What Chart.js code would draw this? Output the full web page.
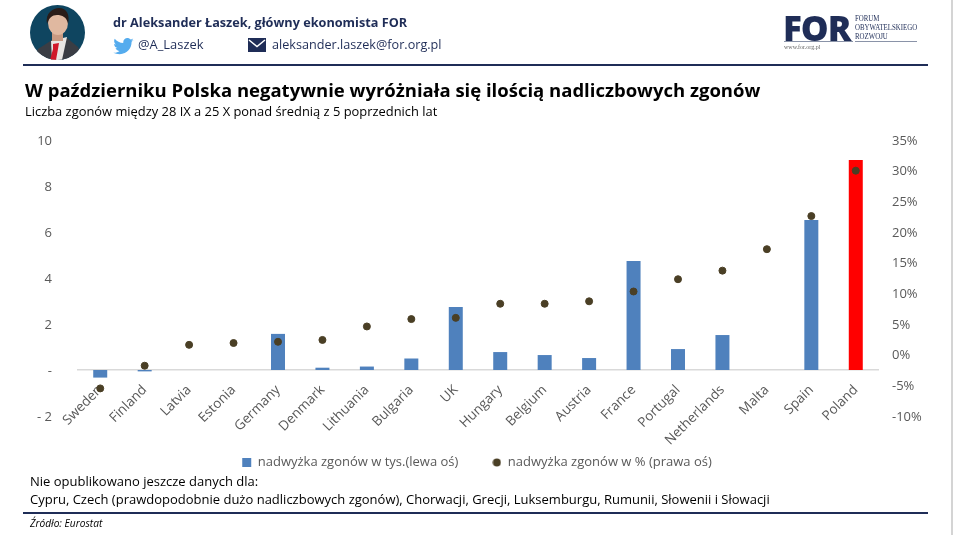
<!DOCTYPE html>
<html lang="pl">
<head>
<meta charset="utf-8">
<title>Nadliczbowe zgony</title>
<script src="https://cdn.jsdelivr.net/npm/chart.js@4"></script>
<style>
    html, body { margin: 0; padding: 0; background: #fff; }
    body { width: 954px; height: 535px; position: relative; overflow: hidden; font-family: "Open Sans", sans-serif; }
    canvas { position: absolute; left: 0; top: 0; }
    .t { position: absolute; white-space: nowrap; line-height: 1; }
    .rule { position: absolute; left: 23px; width: 905px; height: 2px; background: #1f2d57; }
    .edge { position: absolute; left: 951px; top: 0; width: 2px; height: 535px; background: #d4d4d4; }
    svg { position: absolute; }
</style>
</head>
<body>
<canvas id="excessChart" width="954" height="535"></canvas>

<!-- header -->
<svg style="left:30px;top:5px" width="55" height="55" viewBox="0 0 55 55">
    <defs><clipPath id="c"><circle cx="27.5" cy="27.5" r="27.5"/></clipPath></defs>
    <g clip-path="url(#c)">
        <rect width="55" height="55" fill="#0f4560"/>
        <path d="M2 55 L8 44 L22 35 L37 33 L48 42 L54 55 Z" fill="#3a3d44"/>
        <path d="M21 36 L37 32 L32 55 L22 55 Z" fill="#e8e6e4"/>
        <path d="M23 39 L29 38 L28 44 L26 55 L20 55 L23 44 Z" fill="#d0182a"/>
        <rect x="22" y="24" width="11" height="12" fill="#c99a82"/>
        <ellipse cx="28" cy="18" rx="10" ry="12" fill="#e0b8a0"/>
        <path d="M17 19 C15 8 23 3 29 3 C37 3 40 10 38 19 C37 12 32 10 27 10 C22 10 19 13 17 19 Z" fill="#2a1c18"/>
    </g>
</svg>
<span class="t" style="left:113px;top:16px;font-size:12.700px;font-weight:700;color:#1f2d57">dr Aleksander Łaszek, główny ekonomista FOR</span>
<svg style="left:113px;top:38px" width="21" height="17" viewBox="0 0 24 20">
    <path fill="#55acee" d="M24 2.4c-.9.4-1.8.7-2.8.8 1-.6 1.8-1.6 2.2-2.7-1 .6-2 1-3.100 1.200C19.300.7 18 0 16.600 0c-2.700 0-4.900 2.200-4.900 4.900 0 .4 0 .8.100 1.100C7.700 5.800 4.100 3.900 1.700.9c-.4.700-.7 1.600-.7 2.500 0 1.700.9 3.200 2.200 4.100-.8 0-1.600-.2-2.200-.6v.1c0 2.400 1.700 4.400 3.900 4.800-.4.100-.8.200-1.300.2-.3 0-.6 0-.9-.1.600 2 2.400 3.400 4.600 3.400-1.700 1.300-3.800 2.100-6.100 2.100-.4 0-.8 0-1.200-.1C2.200 18.200 4.800 19 7.500 19c9.100 0 14-7.500 14-14v-.6c1-.7 1.800-1.600 2.500-2z"/>
</svg>
<span class="t" style="left:138px;top:38px;font-size:12.900px;color:#1f2d57">@A_Laszek</span>
<svg style="left:248px;top:38px" width="18" height="14" viewBox="0 0 18 14">
    <rect width="18" height="14" fill="#1f2d57"/>
    <path d="M1 2 L9 8.500 L17 2" fill="none" stroke="#fff" stroke-width="1.500"/>
</svg>
<span class="t" style="left:272px;top:38px;font-size:12.650px;color:#1f2d57">aleksander.laszek@for.org.pl</span>

<!-- logo -->
<span class="t" style="left:783px;top:10px;font-size:35px;font-weight:800;letter-spacing:-1px;color:#1f2d57">FOR</span>
<span class="t" style="left:855px;top:14px;font-family:'Liberation Serif',serif;font-size:8.400px;line-height:9px;color:#1f2d57;transform:scaleX(.82);transform-origin:left top">FORUM<br>OBYWATELSKIEGO<br>ROZWOJU</span>
<span class="t" style="left:784px;top:44px;font-family:'Liberation Serif',serif;font-size:6px;color:#666">www.for.org.pl</span>
<div style="position:absolute;left:784px;top:41px;width:69px;height:1px;background:#8a93a8"></div>
<div style="position:absolute;left:855px;top:41px;width:62px;height:1px;background:#8a93a8"></div>

<div class="rule" style="top:64px"></div>

<!-- titles -->
<span class="t" style="left:25px;top:81px;font-size:18.500px;font-weight:700;color:#000">W październiku Polska negatywnie wyróżniała się ilością nadliczbowych zgonów</span>
<span class="t" style="left:25px;top:105px;font-size:12.900px;color:#000">Liczba zgonów między 28 IX a 25 X ponad średnią z 5 poprzednich lat</span>

<!-- notes -->
<span class="t" style="left:30px;top:475px;font-size:13px;color:#000">Nie opublikowano jeszcze danych dla:</span>
<span class="t" style="left:30px;top:493px;font-size:13px;color:#000">Cypru, Czech (prawdopodobnie dużo nadliczbowych zgonów), Chorwacji, Grecji, Luksemburgu, Rumunii, Słowenii i Słowacji</span>
<div class="rule" style="top:512px"></div>
<span class="t" style="left:30px;top:518px;font-size:10.200px;font-style:italic;color:#000">Źródło: Eurostat</span>
<div class="edge"></div>

<script>
// values
const categories = ['Sweden', 'Finland', 'Latvia', 'Estonia', 'Germany', 'Denmark', 'Lithuania', 'Bulgaria', 'UK',
    'Hungary', 'Belgium', 'Austria', 'France', 'Portugal', 'Netherlands', 'Malta', 'Spain', 'Poland'];
const excessThousands = [-0.33, -0.06, 0, 0, 1.57, 0.1, 0.15, 0.5, 2.74, 0.78, 0.65, 0.52, 4.74, 0.91, 1.52, 0, 6.52, 9.13];
const excessPercent = [-5.5, -1.8, 1.6, 1.9, 2.1, 2.4, 4.6, 5.8, 6, 8.3, 8.3, 8.7, 10.3, 12.3, 13.7, 17.2, 22.6, 30];
const leftTickLabels = { '10': '10', '8': '8', '6': '6', '4': '4', '2': '2', '0': '-', '-2': '- 2' };
const highlighted = 'Poland';

const tickColor = '#595959';
const tickFont = { family: '"Open Sans", sans-serif', size: 13 };
const dotColor = '#4a3f25';

// legend circles come out too big at the square's size, so use a small bitmap
const legendDot = document.createElement('canvas');
legendDot.width = 9;
legendDot.height = 9;
const dotCtx = legendDot.getContext('2d');
dotCtx.fillStyle = dotColor;
dotCtx.arc(4.5, 4.5, 4, 0, Math.PI * 2);
dotCtx.fill();

// the legend sits well below the plot, so move it down after layout
const legendShift = {
    id: 'legendShift',
    afterLayout(chart) {
        const legend = chart.legend;
        const h = legend.bottom - legend.top;
        legend.top = 422;
        legend.bottom = 422 + h;
        legend.adjustHitBoxes();
    }
};

const ctx = document.getElementById('excessChart').getContext('2d');
new Chart(ctx, {
    type: 'bar',
    plugins: [legendShift],
    data: {
        labels: categories,
        datasets: [{
            label: 'nadwyżka zgonów w tys.(lewa oś)',
            data: excessThousands,
            yAxisID: 'y',
            order: 2,
            pointStyle: 'rect',
            backgroundColor: (c) => categories[c.dataIndex] === highlighted ? '#ff0000' : '#4f81bd',
            borderWidth: 0,
            categoryPercentage: 1,
            barPercentage: 0.315
        }, {
            type: 'line',
            label: 'nadwyżka zgonów w % (prawa oś)',
            data: excessPercent,
            yAxisID: 'y1',
            order: 1,
            showLine: false,
            pointStyle: 'circle',
            pointRadius: 3.5,
            backgroundColor: dotColor,
            borderColor: dotColor
        }]
    },
    options: {
        responsive: false,
        animation: false,
        devicePixelRatio: 1,
        layout: { padding: { top: 140, bottom: 62 } },
        plugins: {
            tooltip: { enabled: false },
            legend: {
                position: 'bottom',
                labels: {
                    usePointStyle: true,
                    boxWidth: 9,
                    boxHeight: 9,
                    padding: 34,
                    color: tickColor,
                    font: tickFont,
                    sort: (a, b) => a.datasetIndex - b.datasetIndex,
                    generateLabels(chart) {
                        const items = Chart.defaults.plugins.legend.labels.generateLabels(chart);
                        items.find(i => i.datasetIndex === 1).pointStyle = legendDot;
                        return items;
                    }
                }
            }
        },
        scales: {
            x: {
                position: { y: 0 },
                grid: { display: false },
                border: { color: '#d9d9d9', width: 1.5 },
                ticks: { color: tickColor, font: { family: tickFont.family, size: 13.5 }, minRotation: 45, maxRotation: 45, autoSkip: false, padding: 4 }
            },
            y: {
                position: 'left',
                min: -2,
                max: 10,
                grid: { display: false },
                border: { display: false },
                afterFit: (s) => { s.width = 78; },
                afterBuildTicks: (s) => { s.ticks = Object.keys(leftTickLabels).map(Number).sort((a, b) => b - a).map(v => ({ value: v })); },
                ticks: {
                    color: tickColor,
                    font: tickFont,
                    padding: 18,
                    labelOffset: 1,
                    callback: (v) => leftTickLabels[String(v)]
                }
            },
            y1: {
                position: 'right',
                min: -10,
                max: 35,
                grid: { display: false },
                border: { display: false },
                afterFit: (s) => { s.width = 76; },
                ticks: { color: tickColor, font: tickFont, stepSize: 5, padding: 6, labelOffset: 1, callback: (v) => v + '%' }
            }
        }
    }
});
</script>
</body>
</html>
